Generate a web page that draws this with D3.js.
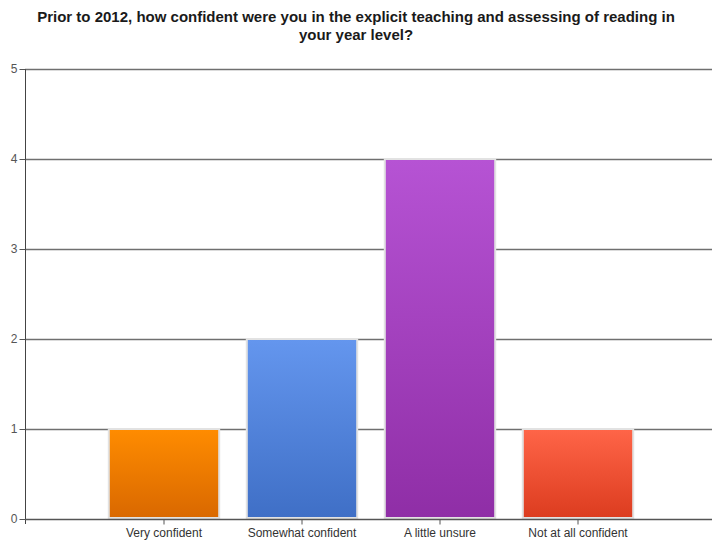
<!DOCTYPE html>
<html><head><meta charset="utf-8">
<script src="https://cdn.jsdelivr.net/npm/d3@7"></script>
<style>body{margin:0;background:#fff;}svg{display:block;}</style>
</head><body>
<svg id="c" width="712" height="544"></svg>
<script>
const categories = ["Very confident", "Somewhat confident", "A little unsure", "Not at all confident"];
const values = [1, 2, 4, 1];
const yTicks = [0, 1, 2, 3, 4, 5];
const titleLines = ["Prior to 2012, how confident were you in the explicit teaching and assessing of reading in", "your year level?"];
const topColors = ["#ff8c00", "#6496ee", "#b653d4", "#ff6548"];
const bottomColors = ["#d96800", "#3f6fc6", "#8f2ea6", "#dc3c1f"];

const svg = d3.select("#c");
const x0 = 25, x1 = 712, yTop = 69, yBot = 519;
const x = d3.scaleBand().domain(categories).range([95, 647]).paddingInner(0.2).paddingOuter(0.1);
const y = d3.scaleLinear().domain([0, 5]).range([yBot, yTop]);

const defs = svg.append("defs");
categories.forEach((c, i) => {
  const g = defs.append("linearGradient").attr("id", "g" + i).attr("x1", 0).attr("y1", 0).attr("x2", 0).attr("y2", 1);
  g.append("stop").attr("offset", "0%").attr("stop-color", topColors[i]);
  g.append("stop").attr("offset", "100%").attr("stop-color", bottomColors[i]);
});

svg.append("g").selectAll("text").data(titleLines).join("text")
  .attr("x", 356).attr("y", (d, i) => 22 + i * 18)
  .attr("text-anchor", "middle")
  .attr("font-family", "Liberation Sans, Arial, sans-serif")
  .attr("font-weight", "bold").attr("font-size", 15).attr("fill", "#1a1a1a")
  .text(d => d);

// gridlines
svg.append("g").selectAll("line").data(yTicks.filter(t => t > 0)).join("line")
  .attr("x1", x0).attr("x2", x1)
  .attr("y1", d => Math.round(y(d)) + 0.5).attr("y2", d => Math.round(y(d)) + 0.5)
  .attr("stroke", "#6f6f6f").attr("stroke-width", 1.5);

// bars
svg.append("g").selectAll("rect").data(values).join("rect")
  .attr("x", (d, i) => x(categories[i]))
  .attr("width", x.bandwidth())
  .attr("y", d => y(d))
  .attr("height", d => y(0) - y(d) - 1)
  .attr("fill", (d, i) => `url(#g${i})`)
  .attr("stroke", "#e2e2e2").attr("stroke-width", 2);

// y axis
const yAxis = d3.axisLeft(y).tickValues(yTicks).tickFormat(d3.format("d")).tickSize(6).tickPadding(2);
const ya = svg.append("g").attr("transform", `translate(${x0 + 0.5},0)`).call(yAxis);
ya.select(".domain").attr("stroke", "#444").attr("d", `M0,${yTop}V${yBot + 5}`);
ya.selectAll(".tick line").attr("stroke", "#555");
ya.selectAll(".tick text").attr("font-family", "Liberation Sans, Arial, sans-serif").attr("font-size", 12).attr("fill", "#555");

// x axis
const xAxis = d3.axisBottom(x).tickSize(5).tickPadding(4);
const xa = svg.append("g").attr("transform", `translate(0,${yBot + 0.5})`).call(xAxis);
xa.select(".domain").attr("stroke", "#555").attr("stroke-width", 1.5).attr("d", `M${x0},0H${x1}`);
xa.selectAll(".tick line").attr("stroke", "#555");
xa.selectAll(".tick text").attr("font-family", "Liberation Sans, Arial, sans-serif").attr("font-size", 12).attr("fill", "#333");
</script>
</body></html>
